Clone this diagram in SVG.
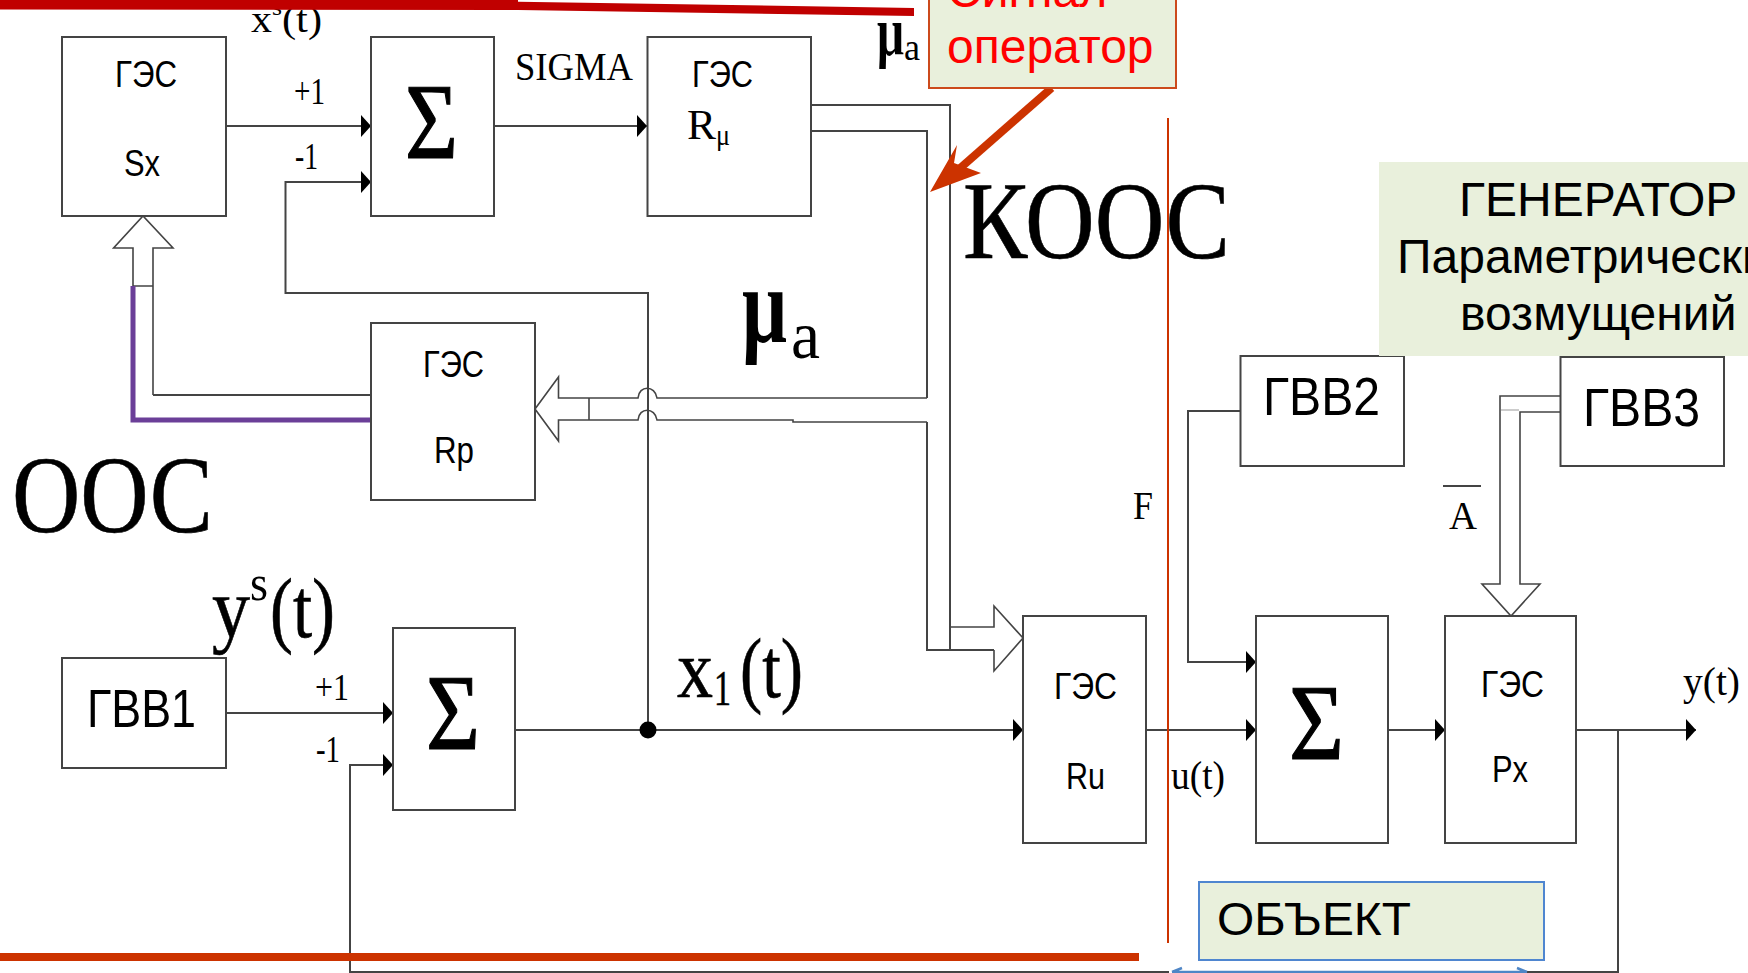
<svg xmlns="http://www.w3.org/2000/svg" width="1748" height="973" viewBox="0 0 1748 973">
<style>
text{fill:#000}
.s{font-family:"Liberation Sans",Arial,sans-serif}
.t{font-family:"Liberation Serif","Times New Roman",serif}
.b{fill:#fff;stroke:#444;stroke-width:2}
.g{font-size:37px}
.v{font-size:53px}
.n{font-size:38px}
.c{fill:none;stroke:#444;stroke-width:2}
.h{fill:none;stroke:#444;stroke-width:1.6}
.big{font-size:110px}
.sig{font-size:107px;stroke:#000;stroke-width:1.2}
.r{fill:#cc3300}
.gr{fill:#e9f0dc}
</style>
<defs>
<marker id="ah" markerUnits="userSpaceOnUse" markerWidth="12" markerHeight="24" refX="10" refY="12" orient="auto"><path d="M0,1 L10,12 L0,23 Z" fill="#000"/></marker>
</defs>
<rect width="1748" height="973" fill="#fff"/>
<g id="connectors">
<path class="c" d="M226,126H371" marker-end="url(#ah)"/>
<path class="c" d="M648,730V293H285.500V182H371" marker-end="url(#ah)"/>
<path class="c" d="M494,126H647" marker-end="url(#ah)"/>
<path class="c" d="M811,105H950V650"/>
<path class="c" d="M226,713H393" marker-end="url(#ah)"/>
<path class="c" d="M515,730H1023" marker-end="url(#ah)"/>
<path class="c" d="M1146,730H1256" marker-end="url(#ah)"/>
<path class="c" d="M1388,730H1445" marker-end="url(#ah)"/>
<path class="c" d="M1576,730H1696" marker-end="url(#ah)"/>
<path class="c" d="M1240,411H1188V662H1256" marker-end="url(#ah)"/>
<path class="c" d="M1527,972H1618V730"/>
<path class="c" d="M1169,972H350V765H393" marker-end="url(#ah)"/>
<path d="M1172,972H1527M1172,972L1182,968M1527,972L1517,968" fill="none" stroke="#4f86c6" stroke-width="2.500"/>
<path class="h" d="M535,409L558.500,377V398H638C639,385 655,385 657,398H927M535,409L558.500,441V420H638C639,407 655,407 657,420H793V422H927M589,398V420"/>
<path class="c" d="M811,131H927V398"/>
<path class="c" d="M927,422V650H994"/>
<path class="h" d="M950,627H994V606L1023,638L994,671V650"/>
<path class="h" d="M153,395V248H173L143,216L113.600,248H133V286H153"/>
<path class="c" d="M371,395H153"/>
<path d="M133,286V420H371" fill="none" stroke="#6b3f98" stroke-width="5"/>
<path class="h" d="M1560,396H1500V584H1482L1511,616L1540,584H1520V412H1560"/>
<path d="M1501,410H1519" stroke="#ccc" stroke-width="2"/>
<circle cx="648" cy="730" r="8.500" fill="#000"/>
</g>
<g id="node-sx"><rect class="b" x="62" y="37" width="164" height="179"/><text class="s g" x="115" y="87" textLength="62" lengthAdjust="spacingAndGlyphs">ГЭС</text><text class="s g" x="124" y="176" textLength="36" lengthAdjust="spacingAndGlyphs">Sx</text></g>
<g id="node-sum1"><rect class="b" x="371" y="37" width="123" height="179"/><text class="t sig" x="405" y="158" textLength="53" lengthAdjust="spacingAndGlyphs">Σ</text></g>
<g id="node-rmu"><rect class="b" x="647.500" y="37" width="163.500" height="179"/><text class="s g" x="692" y="87" textLength="61" lengthAdjust="spacingAndGlyphs">ГЭС</text><text class="t" font-size="42" x="687" y="139" textLength="29" lengthAdjust="spacingAndGlyphs">R</text><text class="t" font-size="30" x="716" y="145" textLength="14" lengthAdjust="spacingAndGlyphs">μ</text></g>
<g id="node-rp"><rect class="b" x="371" y="323" width="164" height="177"/><text class="s g" x="423" y="377" textLength="61" lengthAdjust="spacingAndGlyphs">ГЭС</text><text class="s g" x="434" y="463" textLength="40" lengthAdjust="spacingAndGlyphs">Rp</text></g>
<g id="node-gvv1"><rect class="b" x="62" y="658" width="164" height="110"/><text class="s v" x="87" y="727" textLength="109" lengthAdjust="spacingAndGlyphs">ГВВ1</text></g>
<g id="node-sum2"><rect class="b" x="393" y="628" width="122" height="182"/><text class="t sig" x="426" y="749" textLength="54" lengthAdjust="spacingAndGlyphs">Σ</text></g>
<g id="node-ru"><rect class="b" x="1023" y="616" width="123" height="227"/><text class="s g" x="1054" y="699" textLength="63" lengthAdjust="spacingAndGlyphs">ГЭС</text><text class="s g" x="1066" y="789" textLength="39" lengthAdjust="spacingAndGlyphs">Ru</text></g>
<g id="node-sum3"><rect class="b" x="1256" y="616" width="132" height="227"/><text class="t sig" x="1289" y="759" textLength="55" lengthAdjust="spacingAndGlyphs">Σ</text></g>
<g id="node-px"><rect class="b" x="1445" y="616" width="131" height="227"/><text class="s g" x="1481" y="697" textLength="63" lengthAdjust="spacingAndGlyphs">ГЭС</text><text class="s g" x="1492" y="782" textLength="36" lengthAdjust="spacingAndGlyphs">Px</text></g>
<g id="node-gvv2"><rect class="b" x="1240.500" y="356" width="163.500" height="110"/><text class="s v" x="1263" y="415" textLength="117" lengthAdjust="spacingAndGlyphs">ГВВ2</text></g>
<g id="node-generator"><rect class="gr" x="1379" y="162" width="369" height="194"/><text class="s" font-size="48" x="1459" y="216">ГЕНЕРАТОР</text><text class="s" font-size="48" x="1397" y="273">Параметрических</text><text class="s" font-size="48" x="1460" y="330">возмущений</text></g>
<g id="node-gvv3"><rect class="b" x="1560.500" y="357" width="163.500" height="109"/><text class="s v" x="1583" y="426" textLength="117" lengthAdjust="spacingAndGlyphs">ГВВ3</text></g>
<g id="labels">
<text class="t n" x="251" y="32" textLength="21" lengthAdjust="spacingAndGlyphs">x</text>
<text class="t" font-size="24" x="272" y="15" textLength="10" lengthAdjust="spacingAndGlyphs">s</text>
<text class="t n" x="282" y="32" textLength="40" lengthAdjust="spacingAndGlyphs">(t)</text>
<text class="t n" x="294" y="104" textLength="31" lengthAdjust="spacingAndGlyphs">+1</text>
<text class="t n" x="295" y="169" textLength="23" lengthAdjust="spacingAndGlyphs">-1</text>
<text class="t" font-size="40" x="515" y="80" textLength="118" lengthAdjust="spacingAndGlyphs">SIGMA</text>
<text class="t" font-size="68" x="877" y="55" textLength="27" lengthAdjust="spacingAndGlyphs" font-weight="bold">μ</text>
<text class="t" font-size="38" x="904" y="60" textLength="16" lengthAdjust="spacingAndGlyphs">a</text>
<text class="t" font-size="108" x="742" y="342" textLength="45" lengthAdjust="spacingAndGlyphs" font-weight="bold">μ</text>
<text class="t" font-size="68" x="791" y="358" textLength="29" lengthAdjust="spacingAndGlyphs">a</text>
<text class="t big" x="963" y="258" textLength="267" lengthAdjust="spacingAndGlyphs" stroke="#000" stroke-width="0.600">КООС</text>
<text class="t big" x="12" y="532" textLength="201" lengthAdjust="spacingAndGlyphs" stroke="#000" stroke-width="0.600">ООС</text>
<text class="t" font-size="85" x="212" y="637" textLength="38" lengthAdjust="spacingAndGlyphs" stroke="#000" stroke-width="0.600">y</text>
<text class="t" font-size="50" x="250" y="600" textLength="18" lengthAdjust="spacingAndGlyphs">s</text>
<text class="t" font-size="85" x="270" y="637" textLength="65" lengthAdjust="spacingAndGlyphs" stroke="#000" stroke-width="0.600">(t)</text>
<text class="t n" x="315" y="700" textLength="34" lengthAdjust="spacingAndGlyphs">+1</text>
<text class="t n" x="316" y="762" textLength="24" lengthAdjust="spacingAndGlyphs">-1</text>
<text class="t" font-size="82" x="677" y="697" textLength="36" lengthAdjust="spacingAndGlyphs" stroke="#000" stroke-width="0.600">x</text>
<text class="t" font-size="50" x="714" y="705" textLength="17" lengthAdjust="spacingAndGlyphs" stroke="#000" stroke-width="0.600">1</text>
<text class="t" font-size="85" x="740" y="697" textLength="63" lengthAdjust="spacingAndGlyphs" stroke="#000" stroke-width="0.600">(t)</text>
<text class="t" font-size="40" x="1133" y="519" textLength="20" lengthAdjust="spacingAndGlyphs">F</text>
<text class="t" font-size="40" x="1449" y="529" textLength="28" lengthAdjust="spacingAndGlyphs">A</text>
<path d="M1443,486H1481" stroke="#444" stroke-width="2"/>
<text class="t" font-size="40" x="1171" y="789" textLength="54" lengthAdjust="spacingAndGlyphs">u(t)</text>
<text class="t" font-size="40" x="1683" y="695" textLength="57" lengthAdjust="spacingAndGlyphs">y(t)</text>
</g>
<g id="overlay">
<polygon points="0,0 518,0 518,1.700 914,8 914,16 518,10 0,9.500" fill="#c00000"/>
<rect class="r" x="0" y="953" width="1139" height="8"/>
<path d="M1168,118V943" stroke="#cc3300" stroke-width="2"/>
<path d="M1051.600,88L958,170" stroke="#cc3300" stroke-width="8" fill="none"/>
<polygon class="r" points="930,192 957,145 954,163 981,173"/>
</g>
<g id="node-signal"><rect class="gr" x="929" y="-10" width="247" height="98" stroke="#cc4a1c" stroke-width="2"/><text class="s" font-size="48" x="947" y="7" style="fill:#ff0000">Сигнал</text><text class="s" font-size="48" x="947" y="63" style="fill:#ff0000">оператор</text></g>
<g id="node-object"><rect class="gr" x="1199" y="882" width="345" height="78" stroke="#4f86d0" stroke-width="2"/><text class="s" font-size="47" x="1217" y="935" textLength="194" lengthAdjust="spacingAndGlyphs">ОБЪЕКТ</text></g>
</svg>
